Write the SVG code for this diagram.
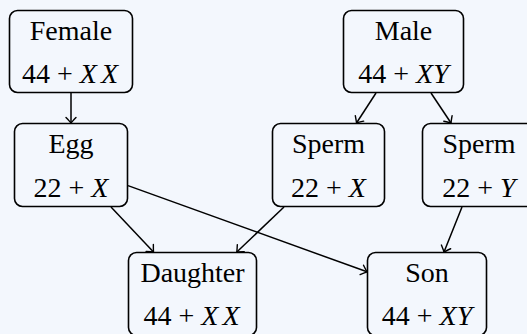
<svg xmlns="http://www.w3.org/2000/svg" width="527" height="334" viewBox="0 0 527 334">
<style>
.box{fill:none;stroke:#000;stroke-width:1.6}
.t{font-family:"Liberation Serif","Times New Roman",serif;font-size:28px;fill:#000;text-anchor:middle}
.m{font-style:italic}
.c{stroke:#000;stroke-width:1.5;fill:none;marker-end:url(#arr)}
</style>
<defs>
<marker id="arr" markerUnits="userSpaceOnUse" markerWidth="14" markerHeight="14" viewBox="-7 -7 14 14" refX="0" refY="0" orient="auto">
<path d="M -5.5 -5 Q -1.5 -1.2 0 0 Q -1.5 1.2 -5.5 5" fill="none" stroke="#000" stroke-width="1.4" stroke-linecap="round"/>
</marker>
</defs>
<rect x="0" y="0" width="527" height="334" fill="#f3f7fd"/>
<g id="connectors">
<line class="c" x1="71" y1="93" x2="71" y2="123"/>
<line class="c" x1="376" y1="93" x2="356.5" y2="123"/>
<line class="c" x1="431" y1="93" x2="451" y2="123"/>
<line class="c" x1="111" y1="207" x2="153.5" y2="252"/>
<line class="c" x1="128" y1="185.6" x2="367" y2="271.8"/>
<line class="c" x1="284" y1="207" x2="236.8" y2="252"/>
<line class="c" x1="462" y1="207" x2="444" y2="252"/>
</g>
<g id="female">
<rect class="box" x="9.5" y="10.5" width="123" height="82" rx="8"/>
<text class="t" x="71" y="40">Female</text>
<text class="t" x="70" y="83">44 + <tspan class="m">X</tspan><tspan class="m" dx="4">X</tspan></text>
</g>
<g id="male">
<rect class="box" x="343.5" y="10.5" width="120" height="82" rx="8"/>
<text class="t" x="403.5" y="40">Male</text>
<text class="t" x="403.5" y="83">44 + <tspan class="m">XY</tspan></text>
</g>
<g id="egg">
<rect class="box" x="14.5" y="123.5" width="113" height="83" rx="8"/>
<text class="t" x="71" y="153">Egg</text>
<text class="t" x="71" y="196.5">22 + <tspan class="m">X</tspan></text>
</g>
<g id="spermX">
<rect class="box" x="272.5" y="123.5" width="112" height="83" rx="8"/>
<text class="t" x="328.5" y="153">Sperm</text>
<text class="t" x="328.5" y="196.5">22 + <tspan class="m">X</tspan></text>
</g>
<g id="spermY">
<rect class="box" x="422.5" y="123.5" width="113" height="83" rx="8"/>
<text class="t" x="479" y="153">Sperm</text>
<text class="t" x="479" y="196.5">22 + <tspan class="m">Y</tspan></text>
</g>
<g id="daughter">
<rect class="box" x="128.5" y="252.5" width="128" height="83" rx="8"/>
<text class="t" x="192.5" y="282">Daughter</text>
<text class="t" x="191.5" y="324.5">44 + <tspan class="m">X</tspan><tspan class="m" dx="4">X</tspan></text>
</g>
<g id="son">
<rect class="box" x="367.5" y="252.5" width="119" height="83" rx="8"/>
<text class="t" x="427" y="282">Son</text>
<text class="t" x="427" y="324.5">44 + <tspan class="m">XY</tspan></text>
</g>
</svg>
